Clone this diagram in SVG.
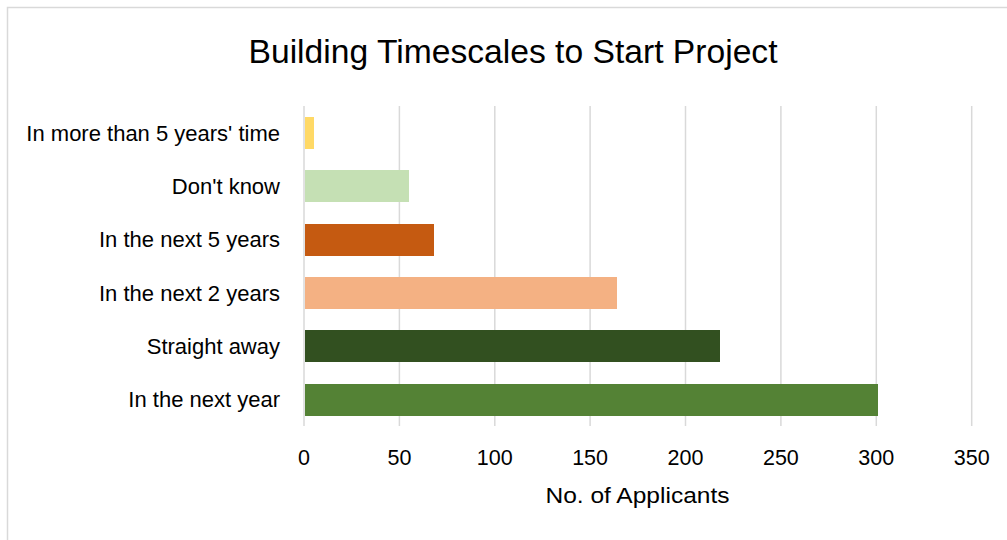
<svg xmlns="http://www.w3.org/2000/svg" width="1007" height="540" viewBox="0 0 1007 540">
<style>
text{font-family:"Liberation Sans",Arial,sans-serif;fill:#000}
.cat{font-size:22px;text-anchor:end}
.tick{font-size:21.5px;text-anchor:middle}
.grid{stroke:#D9D9D9;stroke-width:1.5}
.frame{stroke:#D9D9D9;stroke-width:1.5;fill:none}
</style>
<rect width="1007" height="540" fill="#fff"/>
<path class="frame" d="M7.5 540V7.5H1007"/>
<text x="513" y="63" font-size="33" text-anchor="middle" textLength="529" lengthAdjust="spacingAndGlyphs">Building Timescales to Start Project</text>
<g id="gridlines">
<line class="grid" x1="304" y1="106" x2="304" y2="426"/>
<line class="grid" x1="399.4" y1="106" x2="399.4" y2="426"/>
<line class="grid" x1="494.8" y1="106" x2="494.8" y2="426"/>
<line class="grid" x1="590.1" y1="106" x2="590.1" y2="426"/>
<line class="grid" x1="685.5" y1="106" x2="685.5" y2="426"/>
<line class="grid" x1="780.9" y1="106" x2="780.9" y2="426"/>
<line class="grid" x1="876.3" y1="106" x2="876.3" y2="426"/>
<line class="grid" x1="971.7" y1="106" x2="971.7" y2="426"/>
</g>
<g id="bar-more-than-5"><rect x="305" y="117" width="9" height="32" fill="#FFD966"/><text class="cat" x="280" y="140.5">In more than 5 years' time</text></g>
<g id="bar-dont-know"><rect x="305" y="170" width="104" height="32" fill="#C5E0B4"/><text class="cat" x="280" y="193.5">Don't know</text></g>
<g id="bar-next-5"><rect x="305" y="224" width="129" height="32" fill="#C55A11"/><text class="cat" x="280" y="247">In the next 5 years</text></g>
<g id="bar-next-2"><rect x="305" y="277" width="312" height="32" fill="#F4B183"/><text class="cat" x="280" y="300.5">In the next 2 years</text></g>
<g id="bar-straight-away"><rect x="305" y="330" width="415" height="32" fill="#325020"/><text class="cat" x="280" y="353.5">Straight away</text></g>
<g id="bar-next-year"><rect x="305" y="384" width="573" height="32" fill="#548235"/><text class="cat" x="280" y="407">In the next year</text></g>
<g id="axis-labels">
<text class="tick" x="304" y="465">0</text>
<text class="tick" x="399.4" y="465">50</text>
<text class="tick" x="494.8" y="465">100</text>
<text class="tick" x="590.1" y="465">150</text>
<text class="tick" x="685.5" y="465">200</text>
<text class="tick" x="780.9" y="465">250</text>
<text class="tick" x="876.3" y="465">300</text>
<text class="tick" x="971.7" y="465">350</text>
<text x="637.5" y="503" font-size="22" text-anchor="middle" textLength="184" lengthAdjust="spacingAndGlyphs">No. of Applicants</text>
</g>
</svg>
